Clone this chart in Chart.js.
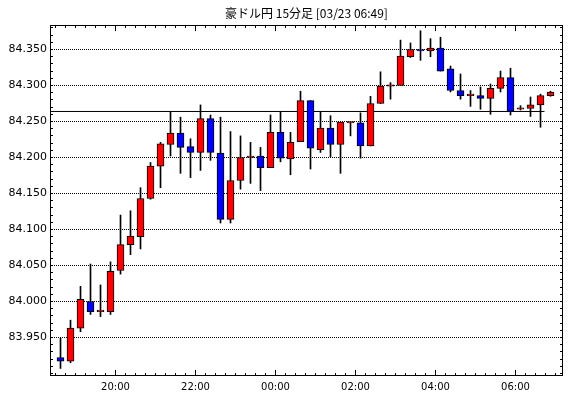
<!DOCTYPE html>
<html>
<head>
<meta charset="utf-8">
<script src="https://cdn.jsdelivr.net/npm/chart.js@4/dist/chart.umd.min.js"></script>
<style>
  html, body { margin: 0; padding: 0; background: #fff; }
</style>
</head>
<body>
<canvas id="chart" width="570" height="398"></canvas>
<script>
// 15 minute candles, AUD/JPY
const times = [
  '18:30', '18:45', '19:00', '19:15', '19:30', '19:45',
  '20:00', '20:15', '20:30', '20:45', '21:00', '21:15', '21:30', '21:45',
  '22:00', '22:15', '22:30', '22:45', '23:00', '23:15', '23:30', '23:45',
  '00:00', '00:15', '00:30', '00:45', '01:00', '01:15', '01:30', '01:45',
  '02:00', '02:15', '02:30', '02:45', '03:00', '03:15', '03:30', '03:45',
  '04:00', '04:15', '04:30', '04:45', '05:00', '05:15', '05:30', '05:45',
  '06:00', '06:15', '06:30', '06:45'
];
const opens = [
  83.922, 83.917, 83.963, 84.000, 83.986, 83.986, 84.043, 84.079, 84.090, 84.143,
  84.188, 84.218, 84.234, 84.215, 84.207, 84.254, 84.206, 84.114, 84.168, 84.200,
  84.202, 84.186, 84.235, 84.198, 84.222, 84.279, 84.211, 84.241, 84.218, 84.248,
  84.248, 84.216, 84.275, 84.299, 84.300, 84.340, 84.350, 84.348, 84.352, 84.323,
  84.293, 84.286, 84.286, 84.282, 84.296, 84.311, 84.267, 84.268, 84.273, 84.286
];
const highs = [
  83.949, 83.974, 84.021, 84.052, 84.023, 84.055, 84.120, 84.126, 84.158, 84.193,
  84.221, 84.263, 84.256, 84.226, 84.273, 84.259, 84.256, 84.236, 84.230, 84.221,
  84.214, 84.259, 84.264, 84.235, 84.292, 84.279, 84.264, 84.258, 84.249, 84.250,
  84.262, 84.285, 84.319, 84.304, 84.363, 84.359, 84.376, 84.365, 84.367, 84.327,
  84.316, 84.293, 84.298, 84.302, 84.320, 84.324, 84.272, 84.284, 84.288, 84.292
];
const lows = [
  83.907, 83.915, 83.958, 83.982, 83.979, 83.982, 84.038, 84.065, 84.073, 84.142,
  84.158, 84.202, 84.178, 84.172, 84.182, 84.196, 84.109, 84.109, 84.156, 84.164,
  84.154, 84.186, 84.194, 84.176, 84.222, 84.184, 84.207, 84.201, 84.178, 84.230,
  84.199, 84.216, 84.275, 84.281, 84.300, 84.339, 84.335, 84.340, 84.320, 84.291,
  84.281, 84.271, 84.267, 84.260, 84.291, 84.259, 84.266, 84.257, 84.242, 84.285
];
const closes = [
  83.917, 83.963, 84.003, 83.986, 83.988, 84.042, 84.079, 84.091, 84.143, 84.188,
  84.219, 84.234, 84.214, 84.207, 84.254, 84.207, 84.114, 84.168, 84.200, 84.202,
  84.186, 84.235, 84.199, 84.221, 84.279, 84.213, 84.241, 84.218, 84.249, 84.250,
  84.216, 84.275, 84.299, 84.301, 84.341, 84.350, 84.348, 84.352, 84.320, 84.293,
  84.286, 84.288, 84.282, 84.296, 84.311, 84.264, 84.269, 84.273, 84.286, 84.291
];

// horizontal reference line (level, last candle index it reaches)
const refLevel = 84.2639;
const refEnd = 48.4;

const yTicks = [83.95, 84.00, 84.05, 84.10, 84.15, 84.20, 84.25, 84.30, 84.35];
const xTickLabels = ['20:00', '22:00', '00:00', '02:00', '04:00', '06:00'];

const xMin = -1.05, xMax = 50.25;
const yMin = 83.8965, yMax = 84.384;

const bodies = opens.map((o, i) => ({ x: i, y: [o, closes[i]] }));
const wicks = lows.map((l, i) => ({ x: i, y: [l, highs[i]] }));
const bodyColors = opens.map((o, i) => closes[i] >= o ? '#ff0000' : '#0000ff');

// frame and inward tick marks like the original
const frameTicks = {
  id: 'frameTicks',
  afterDraw(chart) {
    const { ctx, chartArea: a, scales: { x, y } } = chart;
    ctx.save();
    ctx.strokeStyle = '#000';
    ctx.lineWidth = 1;
    ctx.beginPath();
    for (let i = 0; i <= times.length; i++) {
      const px = Math.floor(x.getPixelForValue(i - 0.5)) + 0.5;
      if (px < a.left || px > a.right) continue;
      const len = xTickLabels.includes(times[i]) ? 6 : 3;
      ctx.moveTo(px, a.bottom);
      ctx.lineTo(px, a.bottom - len);
      ctx.moveTo(px, a.top);
      ctx.lineTo(px, a.top + len);
    }
    for (let k = 8390; k <= 8438; k++) {
      const py = Math.floor(y.getPixelForValue(k / 100)) + 0.5;
      if (py < a.top || py > a.bottom) continue;
      ctx.moveTo(a.left, py);
      ctx.lineTo(a.left + 3, py);
      ctx.moveTo(a.right, py);
      ctx.lineTo(a.right - 3, py);
    }
    ctx.stroke();
    ctx.strokeRect(a.left + 0.5, a.top + 0.5, a.width - 1, a.height - 1);
    ctx.restore();
  }
};

Chart.defaults.font.family = "'DejaVu Sans', 'Liberation Sans', sans-serif";
Chart.defaults.color = '#000';

new Chart(document.getElementById('chart'), {
  type: 'bar',
  data: {
    datasets: [
      {
        label: 'body',
        data: bodies,
        backgroundColor: bodyColors,
        borderColor: '#000',
        borderWidth: 1,
        borderSkipped: false,
        barThickness: 7,
        grouped: false,
        order: 1
      },
      {
        label: 'wick',
        data: wicks,
        backgroundColor: '#000',
        borderWidth: 0,
        barThickness: 1,
        grouped: false,
        order: 2
      },
      {
        type: 'line',
        label: 'ref',
        data: [{ x: xMin, y: refLevel }, { x: refEnd, y: refLevel }],
        borderColor: '#000',
        borderWidth: 1,
        pointRadius: 0,
        order: 3
      }
    ]
  },
  options: {
    responsive: false,
    animation: false,
    layout: { padding: { left: 0, right: 7, top: 0, bottom: 0 } },
    plugins: {
      legend: { display: false },
      tooltip: { enabled: false },
      title: {
        display: true,
        text: '豪ドル円 15分足 [03/23 06:49]',
        fullSize: false,
        color: '#000',
        font: { family: "'Noto Sans CJK JP', sans-serif", size: 12, weight: 'normal' },
        padding: { top: 6, bottom: 4.6 }
      }
    },
    scales: {
      x: {
        type: 'linear',
        min: xMin,
        max: xMax,
        offset: false,
        grid: { display: false, drawTicks: false },
        border: { display: false },
        afterBuildTicks: s => { s.ticks = xTickLabels.map(t => ({ value: times.indexOf(t) - 0.5 })); },
        afterFit: s => { s.height = 22; },
        ticks: {
          padding: 5,
          maxRotation: 0,
          autoSkip: false,
          font: { size: 10 },
          callback: (v, i) => xTickLabels[i]
        }
      },
      y: {
        min: yMin,
        max: yMax,
        grid: { color: '#000', lineWidth: 1, drawTicks: false },
        border: { display: false, dash: [1, 1] },
        afterBuildTicks: s => { s.ticks = yTicks.map(v => ({ value: v })); },
        afterFit: s => { s.width = 50; },
        ticks: {
          padding: 3,
          font: { size: 11 },
          callback: v => v.toFixed(3)
        }
      }
    }
  },
  plugins: [frameTicks]
});
</script>
</body>
</html>
